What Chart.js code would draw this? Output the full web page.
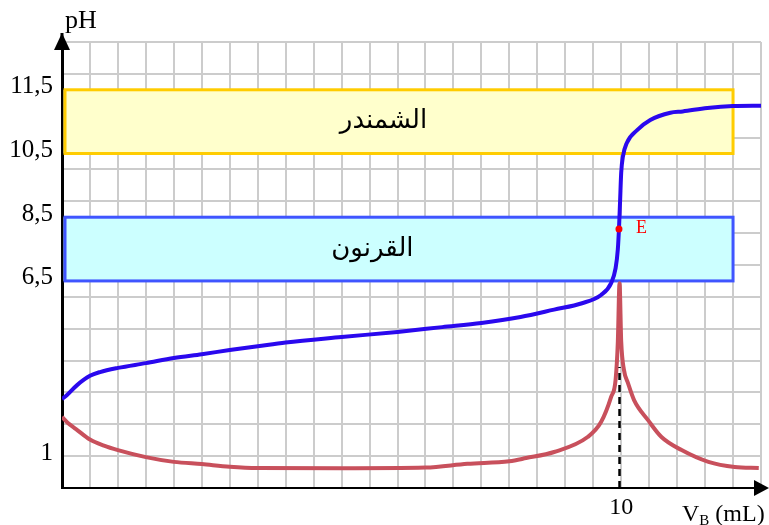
<!DOCTYPE html>
<html>
<head>
<meta charset="utf-8">
<script src="https://cdn.jsdelivr.net/npm/chart.js@4"></script>
<style>
  body { margin: 0; background: #fff; }
  #wrap { width: 769px; height: 525px; position: relative; }
</style>
</head>
<body>
<div id="wrap"><canvas id="titration-chart"></canvas></div>
<script>
// pH = f(VB)
const vB = [0, 0.09, 0.27, 0.5, 0.68, 1.0, 1.5, 2.0, 2.5, 3.0, 3.5, 4.0, 5.0, 6.0, 6.8, 7.5, 8.2, 8.8, 9.3, 9.64, 9.82, 9.9, 9.94, 9.96, 9.98, 10.0, 10.03, 10.1, 10.29, 10.52, 10.88, 11.1, 11.54, 12.0, 12.5];
const pH = [2.79, 2.92, 3.23, 3.52, 3.64, 3.77, 3.92, 4.08, 4.2, 4.33, 4.45, 4.57, 4.74, 4.90, 5.05, 5.18, 5.37, 5.6, 5.8, 6.06, 6.43, 6.9, 7.5, 8.13, 9.0, 9.9, 10.4, 10.83, 11.24, 11.55, 11.78, 11.82, 11.93, 11.99, 12.0];

// dpH/dVB
const vDeriv = [0, 0.1, 0.25, 0.5, 0.75, 1.0, 1.5, 2.0, 2.5, 3.0, 3.5, 5.0, 6.5, 7.25, 8.0, 8.3, 8.8, 9.4, 9.64, 9.82, 9.9, 9.94, 9.97, 10.0, 10.05, 10.12, 10.23, 10.48, 10.72, 11.08, 11.56, 12.03, 12.46];
const dpH = [2.23, 2.05, 1.85, 1.52, 1.33, 1.19, 0.97, 0.82, 0.75, 0.67, 0.63, 0.62, 0.64, 0.76, 0.84, 0.94, 1.13, 1.6, 2.07, 2.86, 3.4, 4.6, 6.43, 4.6, 3.7, 3.3, 2.76, 2.13, 1.6, 1.19, 0.82, 0.66, 0.63];

// equivalence point E
const eqV = 9.96;
const eqPH = 8.13;
const eqDashTop = 3.8;

const xTickValues = [10];
const xTickLabels = ["10"];
const yTickValues = [1, 6.5, 8.5, 10.5, 12.5];
const yTickLabels = ["1", "6,5", "8,5", "10,5", "11,5"];

// indicator zones
const zoneNames = ["الشمندر", "القرنون"];
const zoneLow = [10.5, 6.5];
const zoneHigh = [12.5, 8.5];
const zoneEnd = [12, 12];

const serif = '"Liberation Serif", "DejaVu Serif", serif';

const toPoints = (xs, ys) => xs.map((v, i) => ({ x: v, y: ys[i] }));

const extras = {
  id: 'extras',
  beforeDatasetsDraw(chart) {
    const { ctx, scales: { x, y } } = chart;
    const fills = ['#ffffcc', '#ccffff'];
    const strokes = ['#ffcc00', '#3f55ff'];
    const textX = [5.75, 5.55];
    ctx.save();
    zoneNames.forEach((name, i) => {
      const left = x.getPixelForValue(0) + 1.5;
      const right = x.getPixelForValue(zoneEnd[i]);
      const top = y.getPixelForValue(zoneHigh[i]);
      const bottom = y.getPixelForValue(zoneLow[i]);
      ctx.fillStyle = fills[i];
      ctx.fillRect(left, top, right - left, bottom - top);
      ctx.lineWidth = 3;
      ctx.strokeStyle = strokes[i];
      ctx.strokeRect(left + 1.5, top, right - left - 1.5, bottom - top);
      ctx.fillStyle = '#000';
      ctx.font = '26px "DejaVu Sans"';
      ctx.textAlign = 'center';
      ctx.textBaseline = 'middle';
      ctx.fillText(name, x.getPixelForValue(textX[i]), (top + bottom) / 2);
    });
    ctx.restore();
  },
  afterDraw(chart) {
    const { ctx, chartArea: a, scales: { x, y } } = chart;
    ctx.save();
    ctx.fillStyle = '#000';
    ctx.strokeStyle = '#000';
    // y axis arrow
    ctx.lineWidth = 3;
    ctx.beginPath();
    ctx.moveTo(a.left, a.top);
    ctx.lineTo(a.left, a.top - 9);
    ctx.stroke();
    ctx.beginPath();
    ctx.moveTo(a.left, a.top - 9);
    ctx.lineTo(a.left - 8, a.top + 8);
    ctx.lineTo(a.left + 8, a.top + 8);
    ctx.closePath();
    ctx.fill();
    // x axis arrow
    ctx.lineWidth = 2;
    ctx.beginPath();
    ctx.moveTo(a.right, a.bottom);
    ctx.lineTo(a.right + 6, a.bottom);
    ctx.stroke();
    ctx.beginPath();
    ctx.moveTo(a.right + 8, a.bottom);
    ctx.lineTo(a.right - 7, a.bottom - 8);
    ctx.lineTo(a.right - 7, a.bottom + 8);
    ctx.closePath();
    ctx.fill();
    // axis titles
    ctx.textBaseline = 'alphabetic';
    ctx.textAlign = 'left';
    ctx.font = '26px ' + serif;
    ctx.fillText('pH', a.left + 3, 28);
    let tx = 682;
    ctx.font = '24px ' + serif;
    ctx.fillText('V', tx, 521);
    tx += ctx.measureText('V').width;
    ctx.font = '15px ' + serif;
    ctx.fillText('B', tx, 525);
    tx += ctx.measureText('B').width;
    ctx.font = '24px ' + serif;
    ctx.fillText(' (mL)', tx, 521);
    // E label
    ctx.fillStyle = '#ff0000';
    ctx.font = '18px ' + serif;
    ctx.textBaseline = 'middle';
    ctx.fillText('E', x.getPixelForValue(eqV) + 17, y.getPixelForValue(eqPH) - 1);
    ctx.restore();
  }
};

new Chart(document.getElementById('titration-chart'), {
  type: 'line',
  data: {
    datasets: [
      {
        label: 'E',
        data: [{ x: eqV, y: eqPH }],
        showLine: false,
        pointRadius: 3.5,
        pointBackgroundColor: '#ff0000',
        pointBorderWidth: 0
      },
      {
        label: 'pH',
        data: toPoints(vB, pH),
        borderColor: '#2a08ee',
        borderWidth: 4,
        pointRadius: 0,
        cubicInterpolationMode: 'monotone'
      },
      {
        label: 'VBE',
        data: [{ x: eqV + 0.01, y: 0 }, { x: eqV + 0.01, y: eqDashTop }],
        borderColor: '#000',
        borderWidth: 2.5,
        borderDash: [7, 5],
        pointRadius: 0
      },
      {
        label: 'dpH/dVB',
        data: toPoints(vDeriv, dpH),
        borderColor: '#c8505c',
        borderWidth: 4,
        pointRadius: 0,
        cubicInterpolationMode: 'monotone'
      }
    ]
  },
  options: {
    responsive: true,
    maintainAspectRatio: false,
    animation: false,
    layout: { padding: { top: 42, right: 8, left: 0, bottom: 0 } },
    plugins: {
      legend: { display: false },
      tooltip: { enabled: false }
    },
    scales: {
      x: {
        type: 'linear',
        min: 0,
        max: 12.5,
        afterFit: (s) => { s.height = 37; },
        grid: { color: '#cccccc', lineWidth: 2, drawTicks: false },
        border: { color: '#000', width: 2 },
        ticks: {
          stepSize: 0.5,
          autoSkip: false,
          maxRotation: 0,
          padding: 5,
          color: '#000',
          font: { family: serif, size: 24 },
          callback: (v) => {
            const i = xTickValues.findIndex(t => Math.abs(t - v) < 1e-6);
            return i >= 0 ? xTickLabels[i] : '';
          }
        }
      },
      y: {
        type: 'linear',
        min: 0,
        max: 14,
        afterFit: (s) => { s.width = 62; },
        afterBuildTicks: (s) => {
          const vals = [];
          for (let v = 0; v <= 14; v++) vals.push(v);
          yTickValues.forEach(v => { if (!Number.isInteger(v)) vals.push(v); });
          vals.sort((a, b) => a - b);
          s.ticks = vals.map(v => ({ value: v }));
        },
        grid: {
          lineWidth: 2,
          drawTicks: false,
          color: (c) => (c.tick && Number.isInteger(c.tick.value)) ? '#cccccc' : 'rgba(0,0,0,0)'
        },
        border: { color: '#000', width: 3 },
        ticks: {
          autoSkip: false,
          padding: 9,
          labelOffset: -3,
          color: '#000',
          font: { family: serif, size: 25 },
          callback: (v) => {
            const i = yTickValues.findIndex(t => Math.abs(t - v) < 1e-6);
            return i >= 0 ? yTickLabels[i] : '';
          }
        }
      }
    }
  },
  plugins: [extras]
});
</script>
</body>
</html>
